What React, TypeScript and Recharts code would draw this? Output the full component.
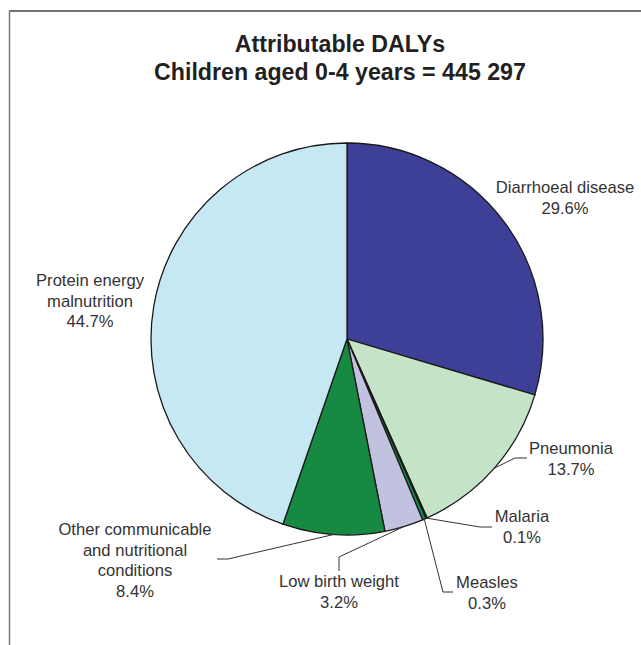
import React from 'react';
import { PieChart, Pie, Cell } from 'recharts';

// Attributable DALYs, children aged 0-4 years (share of total, %)
export const categories = [
  'Diarrhoeal disease',
  'Pneumonia',
  'Malaria',
  'Measles',
  'Low birth weight',
  'Other communicable and nutritional conditions',
  'Protein energy malnutrition',
];
export const shares = [29.6, 13.7, 0.1, 0.3, 3.2, 8.4, 44.7];
export const labelLines = [
  ['Diarrhoeal disease'],
  ['Pneumonia'],
  ['Malaria'],
  ['Measles'],
  ['Low birth weight'],
  ['Other communicable', 'and nutritional', 'conditions'],
  ['Protein energy', 'malnutrition'],
];

const colors = ['#3E3F97', '#C5E3C6', '#0F6B35', '#178A43', '#C1C1E0', '#168A42', '#C6E8F2'];

// label placement, offsets from the pie centre
// t = text anchor / first baseline, path = leader elbows (start is the slice mid point)
const labelLayout: { t: [number, number]; path: [number, number][] }[] = [
  { t: [218, -146], path: [] },
  { t: [224, 115], path: [[168, 119], [180, 119]] },
  { t: [175, 183], path: [[133, 188], [145, 188]] },
  { t: [140, 249], path: [[96, 253], [106, 253]] },
  { t: [-8, 248], path: [[-8, 218], [-8, 232]] },
  { t: [-212, 196], path: [[-119, 220], [-130, 220]] },
  { t: [-257, -53], path: [] },
];

const data = categories.map((name, i) => ({ name, value: shares[i] }));

const W = 641;
const H = 645;
const CX = 347;
const CY = 339;
const R = 196;
const LINE_H = 20.5;
const RAD = Math.PI / 180;

const renderLabel = (props: any) => {
  const { cx, cy, midAngle, outerRadius, index, value } = props;
  const lay = labelLayout[index];
  const sx = cx + outerRadius * Math.cos(-midAngle * RAD);
  const sy = cy + outerRadius * Math.sin(-midAngle * RAD);
  const pts = [[sx, sy], ...lay.path.map(([dx, dy]) => [cx + dx, cy + dy])];
  const lines = [...labelLines[index], `${Number(value).toFixed(1)}%`];
  return (
    <g key={`lbl-${index}`}>
      {lay.path.length > 0 && (
        <polyline
          points={pts.map((p) => p.join(',')).join(' ')}
          fill="none"
          stroke="#333"
          strokeWidth={1}
        />
      )}
      <text
        x={cx + lay.t[0]}
        y={cy + lay.t[1]}
        textAnchor="middle"
        fill="#333"
        fontSize={16.6}
        fontFamily="'Liberation Sans', Arial, sans-serif"
      >
        {lines.map((l, i) => (
          <tspan key={i} x={cx + lay.t[0]} dy={i === 0 ? 0 : LINE_H}>
            {l}
          </tspan>
        ))}
      </text>
    </g>
  );
};

export default function App() {
  return (
    <div style={{ position: 'absolute', left: 0, top: 0, width: W, height: H, background: '#fff' }}>
      <svg width={W} height={H} style={{ position: 'absolute', left: 0, top: 0 }}>
        <line x1={9} y1={11} x2={W} y2={11} stroke="#444" strokeWidth={1.5} />
        <line x1={9.5} y1={11} x2={9.5} y2={H} stroke="#777" strokeWidth={1.5} />
        <text
          x={340}
          y={52}
          textAnchor="middle"
          fontFamily="'Liberation Sans', Arial, sans-serif"
          fontWeight="bold"
          fontSize={23.2}
          fill="#231F20"
        >
          Attributable DALYs
        </text>
        <text
          x={340}
          y={80}
          textAnchor="middle"
          fontFamily="'Liberation Sans', Arial, sans-serif"
          fontWeight="bold"
          fontSize={23.2}
          fill="#231F20"
        >
          Children aged 0-4 years = 445 297
        </text>
      </svg>
      <div style={{ position: 'absolute', left: 0, top: 0 }}>
        <PieChart width={W} height={H} margin={{ top: 0, right: 0, bottom: 0, left: 0 }}>
          <Pie
            data={data}
            dataKey="value"
            nameKey="name"
            cx={CX}
            cy={CY}
            outerRadius={R}
            startAngle={90}
            endAngle={-270}
            stroke="#1a1a1a"
            strokeWidth={1.3}
            label={renderLabel}
            labelLine={false}
            isAnimationActive={false}
          >
            {data.map((d, i) => (
              <Cell key={d.name} fill={colors[i]} />
            ))}
          </Pie>
        </PieChart>
      </div>
    </div>
  );
}
